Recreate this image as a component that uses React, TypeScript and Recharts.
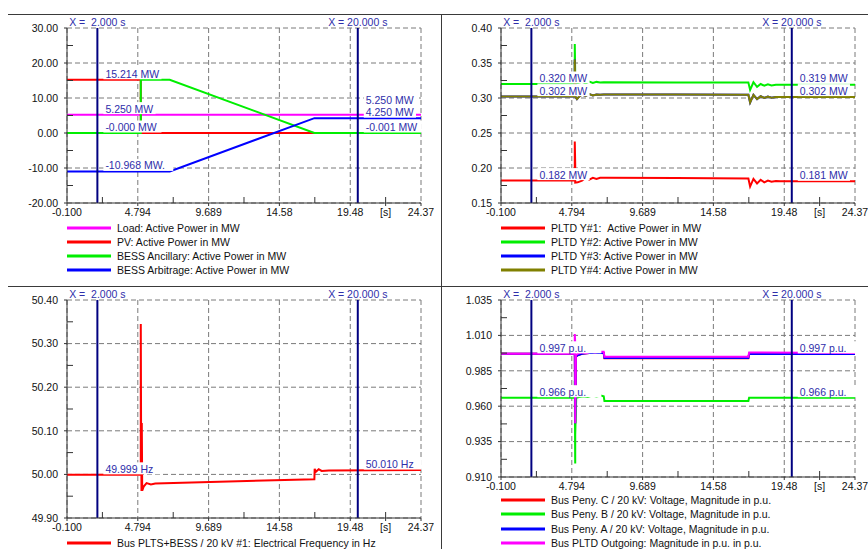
import React from "react";
import {
  LineChart,
  Line,
  XAxis,
  YAxis,
  CartesianGrid,
  ReferenceLine,
  ReferenceDot,
} from "recharts";

const FONT = '"Liberation Sans", Arial, sans-serif';
const FS = 10.5;
const CURSOR = "#000080";
const LABEL_BLUE = "#2e2eaa";
const GRID = "#7a7a7a";
const AXIS = "#333";

// shared time axis
const xTicks = [-0.1, 4.794, 9.689, 14.58, 19.48, 24.37];
const xTickLabels = ["-0.100", "4.794", "9.689", "14.58", "19.48", "24.37"];
const xUnitLabel = "[s]";
const cursors = [2, 20];
const cursorLabels = ["X = \u00a02.000 s", "X = 20.000 s"];

// --- top left: active power
const p1Ticks = [-20, -10, 0, 10, 20, 30];
const loadT = [-0.1, 24.37];
const loadV = [5.25, 5.25];
const pvT = [-0.1, 5.0, 5.0, 24.37];
const pvV = [15.214, 15.214, 0, 0];
const ancT = [-0.1, 5.0, 5.0, 7.0, 17.0, 24.37];
const ancV = [0, 0, 15.214, 15.214, 0, 0];
const arbT = [-0.1, 7.0, 17.0, 24.37];
const arbV = [-10.968, -10.968, 4.25, 4.25];

// --- top right: PLTD units
const p2Ticks = [0.15, 0.2, 0.25, 0.3, 0.35, 0.4];
const y1T = [-0.1, 5.0, 5.0, 5.03, 5.03, 5.2, 5.5, 5.75, 6.0, 6.25, 6.5, 6.75, 7.2, 12.0, 17.0, 17.12, 17.35, 17.6, 17.85, 18.1, 18.35, 18.6, 18.9, 19.2, 24.37];
const y1V = [0.182, 0.182, 0.238, 0.205, 0.179, 0.1795, 0.182, 0.186, 0.1835, 0.186, 0.1845, 0.186, 0.186, 0.1857, 0.185, 0.1735, 0.1845, 0.178, 0.183, 0.1795, 0.182, 0.1805, 0.1815, 0.181, 0.181];
const y2T = [-0.1, 5.0, 5.0, 5.04, 5.2, 5.5, 5.75, 6.0, 6.25, 6.5, 6.75, 7.0, 12.0, 17.0, 17.12, 17.35, 17.6, 17.85, 18.1, 18.35, 18.6, 18.9, 24.37];
const y2V = [0.32, 0.32, 0.377, 0.32, 0.3215, 0.323, 0.321, 0.3235, 0.3215, 0.323, 0.322, 0.3225, 0.3222, 0.322, 0.3115, 0.3225, 0.316, 0.32, 0.3175, 0.3195, 0.318, 0.319, 0.319];
const y4T = [-0.1, 5.0, 5.0, 5.04, 5.15, 5.3, 5.5, 5.75, 6.0, 6.25, 6.5, 6.75, 7.0, 12.0, 17.0, 17.12, 17.35, 17.6, 17.85, 18.1, 18.35, 18.6, 18.9, 24.37];
const y4V = [0.302, 0.302, 0.355, 0.302, 0.2985, 0.302, 0.305, 0.303, 0.3055, 0.3035, 0.305, 0.3045, 0.305, 0.305, 0.3045, 0.2935, 0.3045, 0.2985, 0.3025, 0.3, 0.302, 0.3005, 0.3015, 0.3015];
const y3T = y4T; // Y#3 runs identical to Y#4, hidden underneath
const y3V = y4V;

// --- bottom left: frequency
const p3Ticks = [49.9, 50.0, 50.1, 50.2, 50.3, 50.4];
const freqT = [-0.1, 5.0, 5.0, 5.02, 5.05, 5.07, 5.1, 5.2, 5.4, 5.7, 6.0, 17.0, 17.02, 17.1, 17.3, 17.5, 18.0, 24.37];
const freqV = [49.999, 49.999, 50.345, 50.12, 49.962, 50.118, 49.963, 49.972, 49.98, 49.977, 49.979, 49.989, 50.013, 50.006, 50.012, 50.008, 50.009, 50.01];

// --- bottom right: voltages
const p4Ticks = [0.91, 0.935, 0.96, 0.985, 1.01, 1.035];
const vcT = [-0.1, 5.0, 5.03, 5.08, 5.2, 5.5, 6.0, 7.0, 7.05, 17.0, 17.05, 24.37];
const vcV = [0.997, 0.997, 0.948, 0.995, 0.996, 0.997, 0.9975, 0.9975, 0.9938, 0.9939, 0.997, 0.997];
const vbT = [-0.1, 5.0, 5.0, 5.03, 5.03, 5.1, 5.3, 5.6, 5.9, 6.2, 6.5, 6.8, 7.0, 7.05, 17.0, 17.05, 24.37];
const vbV = [0.966, 0.966, 0.978, 0.9195, 0.94, 0.966, 0.9665, 0.967, 0.9665, 0.9675, 0.9668, 0.9675, 0.967, 0.9637, 0.9637, 0.966, 0.966];
const vaT = [-0.1, 5.0, 5.03, 5.08, 5.2, 5.5, 6.0, 7.0, 7.05, 17.0, 17.05, 24.37];
const vaV = [0.997, 0.997, 0.948, 0.995, 0.996, 0.997, 0.9975, 0.9975, 0.9941, 0.9941, 0.9968, 0.9968];
const voT = [-0.1, 5.0, 5.0, 5.03, 5.03, 5.08, 5.2, 5.5, 5.8, 6.1, 6.4, 6.7, 7.0, 7.05, 17.0, 17.05, 24.37];
const voV = [0.997, 0.997, 1.011, 1.005, 0.948, 0.996, 0.997, 0.998, 0.9975, 0.9985, 0.998, 0.9985, 0.9985, 0.995, 0.995, 0.998, 0.9975];

type Pt = { t: number; v: number };
type Series = { name: string; color: string; data: Pt[] };
type ValueLabel = { at: number; value: number; text: string };

const zip = (t: number[], v: number[]): Pt[] => t.map((x, i) => ({ t: x, v: v[i] }));

const p1Series: Series[] = [
  { name: "Load: Active Power in MW", color: "#ff00ff", data: zip(loadT, loadV) },
  { name: "PV: Active Power in MW", color: "#ff0000", data: zip(pvT, pvV) },
  { name: "BESS Ancillary: Active Power in MW", color: "#00ee00", data: zip(ancT, ancV) },
  { name: "BESS Arbitrage: Active Power in MW", color: "#0000ff", data: zip(arbT, arbV) },
];
const p1Labels: ValueLabel[] = [
  { at: 2, value: 15.214, text: "15.214 MW" },
  { at: 2, value: 5.25, text: "5.250 MW" },
  { at: 2, value: 0, text: "-0.000 MW" },
  { at: 2, value: -10.968, text: "-10.968 MW." },
  { at: 20, value: 5.25, text: "5.250 MW" },
  { at: 20, value: 4.25, text: "4.250 MW" },
  { at: 20, value: -0.001, text: "-0.001 MW" },
];

const p2Series: Series[] = [
  { name: "PLTD Y#1: \u00a0Active Power in MW", color: "#ff0000", data: zip(y1T, y1V) },
  { name: "PLTD Y#2: Active Power in MW", color: "#00ee00", data: zip(y2T, y2V) },
  { name: "PLTD Y#3: Active Power in MW", color: "#0000ff", data: zip(y3T, y3V) },
  { name: "PLTD Y#4: Active Power in MW", color: "#808000", data: zip(y4T, y4V) },
];
const p2Labels: ValueLabel[] = [
  { at: 2, value: 0.32, text: "0.320 MW" },
  { at: 2, value: 0.302, text: "0.302 MW" },
  { at: 2, value: 0.182, text: "0.182 MW" },
  { at: 20, value: 0.319, text: "0.319 MW" },
  { at: 20, value: 0.302, text: "0.302 MW" },
  { at: 20, value: 0.181, text: "0.181 MW" },
];

const p3Series: Series[] = [
  { name: "Bus PLTS+BESS / 20 kV #1: Electrical Frequency in Hz", color: "#ff0000", data: zip(freqT, freqV) },
];
const p3Labels: ValueLabel[] = [
  { at: 2, value: 49.999, text: "49.999 Hz" },
  { at: 20, value: 50.01, text: "50.010 Hz" },
];

const p4Series: Series[] = [
  { name: "Bus Peny. C / 20 kV: Voltage, Magnitude in p.u.", color: "#ff0000", data: zip(vcT, vcV) },
  { name: "Bus Peny. B / 20 kV: Voltage, Magnitude in p.u.", color: "#00ee00", data: zip(vbT, vbV) },
  { name: "Bus Peny. A / 20 kV: Voltage, Magnitude in p.u.", color: "#0000ff", data: zip(vaT, vaV) },
  { name: "Bus PLTD Outgoing: Magnitude in p.u. in p.u.", color: "#ff00ff", data: zip(voT, voV) },
];
const p4Labels: ValueLabel[] = [
  { at: 2, value: 0.997, text: "0.997 p.u." },
  { at: 2, value: 0.966, text: "0.966 p.u." },
  { at: 20, value: 0.997, text: "0.997 p.u." },
  { at: 20, value: 0.966, text: "0.966 p.u." },
];

const W = 434;
const PLOT_L = 67;
const PLOT_R = 421;
const X_AXIS_H = 18;

// push labels of one cursor apart so they don't overlap (pixel offsets)
function spreadLabels(labels: ValueLabel[], yMax: number, kY: number) {
  const out = labels.map((l) => ({ ...l, dy: -6 }));
  for (const c of cursors) {
    const group = out.filter((l) => l.at === c).sort((a, b) => a.value - b.value);
    let prev = Infinity;
    for (const l of group) {
      const lineY = (yMax - l.value) * kY;
      const mid = Math.min(lineY - 6, prev - 12.5);
      l.dy = mid - lineY;
      prev = mid;
    }
  }
  return out;
}

type PanelProps = {
  left: number;
  top: number;
  plotTop: number;
  plotH: number;
  yTicks: number[];
  digits: number;
  series: Series[];
  labels: ValueLabel[];
  legendTop: number;
  legendStep: number;
};

const Panel = ({ left, top, plotTop, plotH, yTicks, digits, series, labels, legendTop, legendStep }: PanelProps) => {
  const yMin = yTicks[0];
  const yMax = yTicks[yTicks.length - 1];
  const xMin = xTicks[0];
  const xMax = xTicks[xTicks.length - 1];
  const kY = plotH / (yMax - yMin);
  const kX = (PLOT_R - PLOT_L) / (xMax - xMin);
  const unitTick = (xTicks[4] + xTicks[5]) / 2;
  const xMinor = xTicks.slice(1).map((v, i) => (v + xTicks[i]) / 2);
  const yMinor = yTicks.slice(1).map((v, i) => (v + yTicks[i]) / 2);
  const placed = spreadLabels(labels, yMax, kY);
  const tickStyle = { fill: "#111", fontSize: FS, fontFamily: FONT };

  return (
    <div style={{ position: "absolute", left, top, width: W }}>
      <LineChart
        width={W}
        height={plotTop + plotH + X_AXIS_H}
        margin={{ top: plotTop, right: W - PLOT_R, bottom: 0, left: 0 }}
      >
        <CartesianGrid
          stroke={GRID}
          strokeDasharray="5 3"
          verticalValues={xTicks}
          horizontalValues={yTicks}
        />
        <XAxis
          type="number"
          dataKey="t"
          domain={[xMin, xMax]}
          ticks={[...xTicks, unitTick]}
          interval={0}
          height={X_AXIS_H}
          allowDataOverflow
          tickFormatter={(v: number) => {
            const i = xTicks.indexOf(v);
            return i >= 0 ? xTickLabels[i] : xUnitLabel;
          }}
          tick={tickStyle}
          tickSize={3}
          tickMargin={3}
          axisLine={{ stroke: AXIS }}
          tickLine={{ stroke: AXIS }}
        />
        <YAxis
          type="number"
          domain={[yMin, yMax]}
          ticks={yTicks}
          interval={0}
          width={PLOT_L}
          allowDataOverflow
          tickFormatter={(v: number) => v.toFixed(digits)}
          tick={tickStyle}
          tickSize={3}
          tickMargin={6}
          axisLine={{ stroke: AXIS }}
          tickLine={{ stroke: AXIS }}
        />
        {series.map((s) => (
          <Line
            key={s.name}
            data={s.data}
            dataKey="v"
            type="linear"
            stroke={s.color}
            strokeWidth={2}
            dot={false}
            activeDot={false}
            isAnimationActive={false}
          />
        ))}
        {xMinor.map((m) => (
          <ReferenceLine
            key={"xm" + m}
            segment={[{ x: m, y: yMin }, { x: m, y: yMin + 6 / kY }]}
            stroke={AXIS}
            ifOverflow="visible"
          />
        ))}
        {yMinor.map((m) => (
          <ReferenceLine
            key={"ym" + m}
            segment={[{ x: xMin, y: m }, { x: xMin + 6 / kX, y: m }]}
            stroke={AXIS}
            ifOverflow="visible"
          />
        ))}
        {placed.map((l, i) => (
          <ReferenceDot
            key={"lb" + i}
            x={l.at}
            y={l.value}
            r={1}
            ifOverflow="visible"
            shape={(p: any) => {
              const mid = p.cy + l.dy;
              return (
                <g>
                  <rect x={p.cx + 6} y={mid - 6.5} width={l.text.length * 5.9 + 5} height={12} fill="#fff" />
                  <text x={p.cx + 8} y={mid + 4} fontSize={FS} fontFamily={FONT} fill={LABEL_BLUE}>
                    {l.text}
                  </text>
                </g>
              );
            }}
          />
        ))}
        {cursors.map((c, i) => (
          <ReferenceLine
            key={"c" + c}
            x={c}
            stroke={CURSOR}
            strokeWidth={2}
            label={{ value: cursorLabels[i], position: "top", offset: 2, fill: LABEL_BLUE, fontSize: FS, fontFamily: FONT }}
          />
        ))}
      </LineChart>
      {series.map((s, i) => (
        <div
          key={s.name}
          style={{
            position: "absolute",
            left: PLOT_L,
            top: legendTop + i * legendStep,
            height: 14,
            display: "flex",
            alignItems: "center",
            whiteSpace: "pre",
            fontSize: FS,
            fontFamily: FONT,
            color: "#111",
          }}
        >
          <svg width={44} height={4} style={{ display: "block" }}>
            <line x1={0} y1={2} x2={44} y2={2} stroke={s.color} strokeWidth={3} />
          </svg>
          <span style={{ marginLeft: 6 }}>{s.name}</span>
        </div>
      ))}
    </div>
  );
};

const frameLine = (x: number, y: number, w: number, h: number) => (
  <div style={{ position: "absolute", left: x, top: y, width: w, height: h, background: "#3a3a3a" }} />
);

export default function App() {
  return (
    <div
      style={{
        position: "absolute",
        left: 0,
        top: 0,
        width: 868,
        height: 549,
        background: "#fff",
        overflow: "hidden",
        fontFamily: FONT,
      }}
    >
      {frameLine(8, 14, 860, 1)}
      {frameLine(8, 286, 860, 1)}
      {frameLine(441, 14, 1, 535)}
      <Panel left={0} top={0} plotTop={28} plotH={175} yTicks={p1Ticks} digits={2} series={p1Series} labels={p1Labels} legendTop={221} legendStep={14} />
      <Panel left={434} top={0} plotTop={28} plotH={175} yTicks={p2Ticks} digits={2} series={p2Series} labels={p2Labels} legendTop={221} legendStep={14} />
      <Panel left={0} top={280} plotTop={20} plotH={218} yTicks={p3Ticks} digits={2} series={p3Series} labels={p3Labels} legendTop={256} legendStep={14} />
      <Panel left={434} top={280} plotTop={20} plotH={177} yTicks={p4Ticks} digits={3} series={p4Series} labels={p4Labels} legendTop={213} legendStep={14.3} />
    </div>
  );
}
